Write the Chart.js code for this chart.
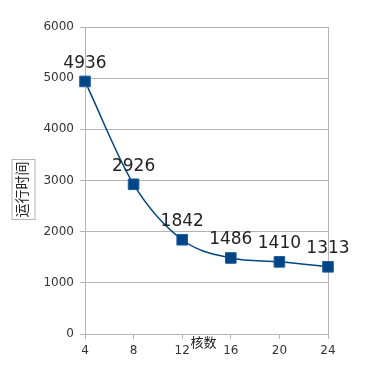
<!DOCTYPE html>
<html>
<head>
<meta charset="utf-8">
<script src="https://cdn.jsdelivr.net/npm/chart.js@4/dist/chart.umd.min.js"></script>
<style>
  html, body { margin: 0; padding: 0; background: #fff; }
  #wrap { width: 378px; height: 379px; }
</style>
</head>
<body>
<div id="wrap"><canvas id="c" width="378" height="379"></canvas></div>
<script>
// datos
const cores = [4, 8, 12, 16, 20, 24];
const runTimes = [4936, 2926, 1842, 1486, 1410, 1313];
const yTicks = [0, 1000, 2000, 3000, 4000, 5000, 6000];
const yTitle = '运行时间';
const xTitle = '核数';

const gridGray = '#b3b3b3';
const blue = '#004586';

// etiquetas de valor y titulos de ejes
const labelsPlugin = {
    id: 'labelsPlugin',
    afterDatasetsDraw(chart) {
        const ctx = chart.ctx;
        const meta = chart.getDatasetMeta(0);
        ctx.save();
        ctx.font = '17px "DejaVu Sans"';
        ctx.fillStyle = '#222';
        ctx.textAlign = 'center';
        ctx.textBaseline = 'middle';
        meta.data.forEach((pt, i) => {
            ctx.fillText(String(runTimes[i]), pt.x, pt.y - 18);
        });
        ctx.restore();

        const area = chart.chartArea;
        // titulo eje Y en caja
        ctx.save();
        ctx.translate(23.5, (area.top + area.bottom) / 2 + 9);
        ctx.rotate(-Math.PI / 2);
        ctx.font = '14px "DejaVu Sans", "Noto Sans CJK SC"';
        ctx.fillStyle = '#222';
        ctx.textAlign = 'center';
        ctx.textBaseline = 'middle';
        ctx.fillText(yTitle, 0, 0);
        ctx.strokeStyle = gridGray;
        ctx.lineWidth = 1;
        ctx.strokeRect(-30, -11.5, 60, 23);
        ctx.restore();

        // titulo eje X
        ctx.save();
        ctx.font = '13px "DejaVu Sans", "Noto Sans CJK SC"';
        ctx.fillStyle = '#222';
        ctx.textAlign = 'center';
        ctx.textBaseline = 'middle';
        ctx.fillText(xTitle, 203.5, area.bottom + 10);
        ctx.restore();
    }
};

new Chart(document.getElementById('c').getContext('2d'), {
    type: 'line',
    data: {
        datasets: [{
            data: cores.map((x, i) => ({ x: x, y: runTimes[i] })),
            borderColor: blue,
            backgroundColor: blue,
            borderWidth: 1.5,
            cubicInterpolationMode: 'monotone',
            pointStyle: 'rect',
            pointRadius: 7.5,
            pointBorderColor: '#1f5d99',
            pointBorderWidth: 1,
            clip: false,
            fill: false
        }]
    },
    options: {
        responsive: false,
        animation: false,
        layout: { padding: { left: 0, right: 50, top: 27, bottom: 0 } },
        plugins: {
            legend: { display: false },
            tooltip: { enabled: false }
        },
        scales: {
            x: {
                type: 'linear',
                min: 4,
                max: 24,
                afterFit: s => { s.height = 45; },
                afterBuildTicks: s => { s.ticks = cores.map(v => ({ value: v })); },
                ticks: {
                    color: '#333',
                    font: { family: 'DejaVu Sans', size: 12 },
                    padding: 5,
                    maxRotation: 0,
                    callback: v => String(v)
                },
                grid: {
                    color: c => (c.tick && c.tick.value === 24) ? gridGray : 'rgba(0,0,0,0)',
                    tickColor: gridGray,
                    tickLength: 5
                },
                border: { display: true, color: gridGray }
            },
            y: {
                min: 0,
                max: 6000,
                afterFit: s => { s.width = 85; },
                afterBuildTicks: s => { s.ticks = yTicks.map(v => ({ value: v })); },
                ticks: {
                    color: '#333',
                    font: { family: 'DejaVu Sans', size: 12 },
                    padding: 6,
                    callback: v => String(v)
                },
                grid: { color: gridGray, tickColor: gridGray, tickLength: 5 },
                border: { display: true, color: gridGray }
            }
        }
    },
    plugins: [labelsPlugin]
});
</script>
</body>
</html>
